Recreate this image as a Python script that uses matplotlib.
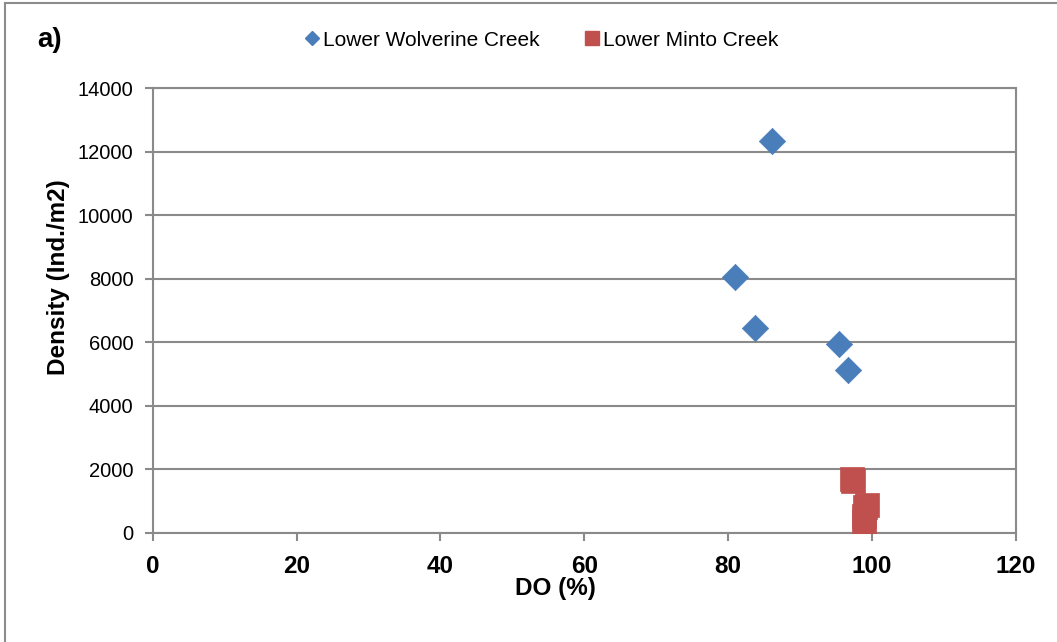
import matplotlib
matplotlib.use("Agg")
import matplotlib.pyplot as plt
from matplotlib.lines import Line2D

plt.rcParams['font.family'] = ['Liberation Sans', 'DejaVu Sans']

wolv_do = [86.1, 81.0, 83.8, 95.4, 96.7]
wolv_density = [12340, 8050, 6450, 5945, 5140]
minto_do = [97.2, 97.4, 99.3, 99.0, 98.9, 98.9]
minto_density = [1680, 1640, 880, 820, 520, 330]

xticks = [0, 20, 40, 60, 80, 100, 120]
yticks = [0, 2000, 4000, 6000, 8000, 10000, 12000, 14000]

W, H = 1057, 642
fig = plt.figure(figsize=(W / 100, H / 100), dpi=100)
ax = fig.add_axes([152.7 / W, 1 - 532.7 / H, 863 / W, 444.4 / H])

grey = '#8a8a8a'
ax.scatter(wolv_do, wolv_density, marker='D', s=180, color='#4a7ebb', zorder=3,
           edgecolors='#4a7ebb', linewidths=0.5, label='Lower Wolverine Creek')
ax.scatter(minto_do, minto_density, marker='s', s=290, color='#c0504d', zorder=3,
           edgecolors='#c0504d', linewidths=0.5, label='Lower Minto Creek')

ax.set_xlim(0, 120)
ax.set_ylim(0, 14000)
ax.set_xticks(xticks)
ax.set_yticks(yticks)
ax.set_xticklabels([str(v) for v in xticks], fontsize=17.5, fontweight='bold')
ax.set_yticklabels([str(v) for v in yticks], fontsize=14.5)
ax.yaxis.grid(True, color=grey, linewidth=1.5)
ax.set_axisbelow(True)
for s in ax.spines.values():
    s.set_color(grey)
    s.set_linewidth(1.5)
ax.tick_params(axis='both', direction='out', length=6, width=1.5, color=grey)
ax.tick_params(axis='x', pad=10)
ax.tick_params(axis='y', pad=8)

ax.set_xlabel('DO (%)', fontsize=17.5, fontweight='bold')
ax.xaxis.set_label_coords((555 - 152.7) / 863, (532.7 - 588) / 444.4)
ax.xaxis.label.set_va('center')
ax.set_ylabel('Density (Ind./m2)', fontsize=17.5, fontweight='bold')
ax.yaxis.set_label_coords((58 - 152.7) / 863, (532.7 - 277) / 444.4)
ax.yaxis.label.set_va('center')

fig.text(37 / W, 1 - 40 / H, 'a)', fontsize=20, fontweight='bold', va='center', ha='left')

handles = [
    Line2D([], [], marker='D', linestyle='none', color='#4a7ebb', markersize=7),
    Line2D([], [], marker='s', linestyle='none', color='#c0504d', markersize=10),
]
fig.legend(handles, ['Lower Wolverine Creek', 'Lower Minto Creek'],
           loc='center', bbox_to_anchor=(540 / W, 1 - 40 / H), ncol=2, frameon=False,
           fontsize=15, handletextpad=0.05, columnspacing=2.0, handlelength=1.0)

fig.add_artist(Line2D([5 / W, 5 / W], [0, 1 - 3 / H], transform=fig.transFigure,
                      color='#8c8c8c', linewidth=1.5))
fig.add_artist(Line2D([5 / W, 1], [1 - 3 / H, 1 - 3 / H], transform=fig.transFigure,
                      color='#8c8c8c', linewidth=1.5))

fig.savefig('out.png', dpi=100)
